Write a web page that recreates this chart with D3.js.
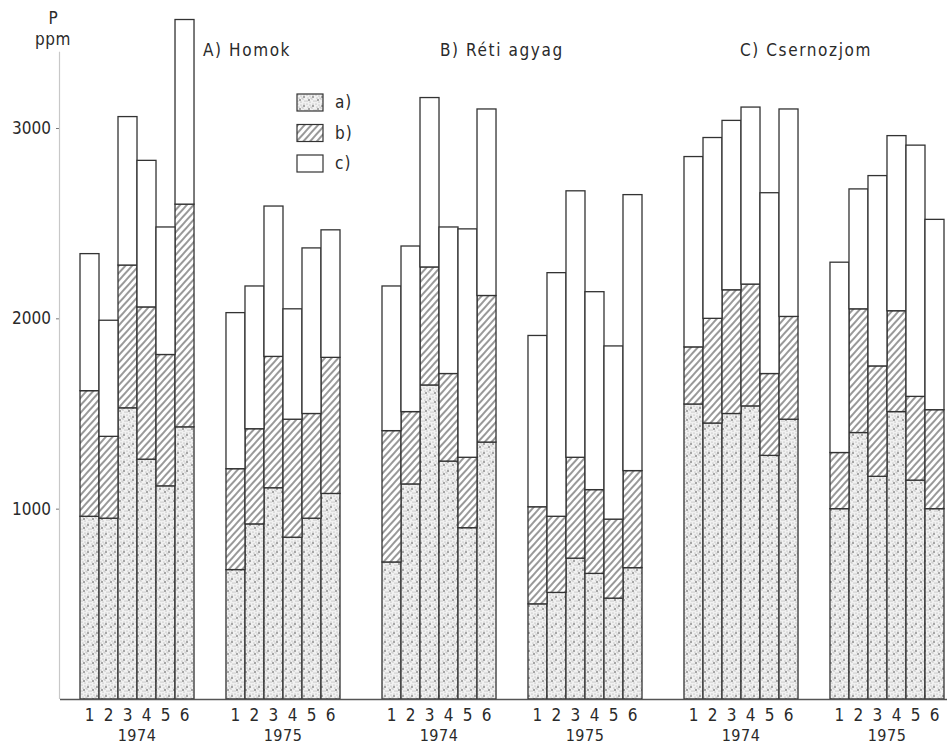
<!DOCTYPE html>
<html>
<head>
<meta charset="utf-8">
<script src="https://cdn.jsdelivr.net/npm/d3@7"></script>
<style>
  body { margin: 0; background: #fff; }
  text { font-family: "DejaVu Sans Condensed", "Liberation Sans Narrow", "DejaVu Sans", sans-serif; fill: #2a2a2a; }
</style>
</head>
<body>
<div id="chart"></div>
<script>
// soils and years
const soils = ['A) Homok', 'B) Réti agyag', 'C) Csernozjom'];
const years = ['1974', '1975'];
const samples = ['1', '2', '3', '4', '5', '6'];
const fractions = ['a', 'b', 'c'];

// P fractions (ppm), one row per soil/year: A74, A75, B74, B75, C74, C75
const fracA = [
    [960, 950, 1530, 1260, 1120, 1430],
    [680, 920, 1110, 850, 950, 1080],
    [720, 1130, 1650, 1250, 900, 1350],
    [500, 560, 740, 660, 530, 690],
    [1550, 1450, 1500, 1540, 1280, 1470],
    [1000, 1400, 1170, 1510, 1150, 1000]
];
const fracB = [
    [660, 430, 750, 800, 690, 1170],
    [530, 500, 690, 620, 550, 715],
    [690, 380, 620, 460, 370, 770],
    [510, 400, 530, 440, 415, 510],
    [300, 550, 650, 640, 430, 540],
    [295, 650, 580, 530, 440, 520]
];
const fracC = [
    [720, 610, 780, 770, 670, 970],
    [820, 750, 790, 580, 870, 670],
    [760, 870, 890, 770, 1200, 980],
    [900, 1280, 1400, 1040, 910, 1450],
    [1000, 950, 890, 930, 950, 1090],
    [1000, 630, 1000, 920, 1320, 1000]
];
const yTicks = [1000, 2000, 3000];

const W = 947, H = 747;

// flat table built from the arrays
const rows = [];
soils.forEach((soil, si) => {
    years.forEach((year, yi) => {
        const g = si * 2 + yi;
        samples.forEach((s, k) => {
            rows.push({ soil, year, sample: s, a: fracA[g][k], b: fracB[g][k], c: fracC[g][k] });
        });
    });
});

const svg = d3.select('#chart').append('svg')
    .attr('width', W)
    .attr('height', H);

svg.append('rect').attr('width', W).attr('height', H).attr('fill', '#fff');

// Patterns
const defs = svg.append('defs');

const dots = defs.append('pattern')
    .attr('id', 'dots')
    .attr('patternUnits', 'userSpaceOnUse')
    .attr('width', 9).attr('height', 9);
dots.append('rect').attr('width', 9).attr('height', 9).attr('fill', '#f1f1f1');
[[1, 1], [4, 2], [7, 1], [2, 4], [6, 5], [8, 7], [1, 7], [4, 8], [5, 4]].forEach(p => {
    dots.append('circle').attr('cx', p[0]).attr('cy', p[1]).attr('r', 0.6).attr('fill', '#a0a0a0');
});
[[3, 6], [7, 3]].forEach(p => {
    dots.append('circle').attr('cx', p[0]).attr('cy', p[1]).attr('r', 0.7).attr('fill', '#222');
});

const hatch = defs.append('pattern')
    .attr('id', 'hatch')
    .attr('patternUnits', 'userSpaceOnUse')
    .attr('width', 5).attr('height', 5)
    .attr('patternTransform', 'rotate(42)');
hatch.append('rect').attr('width', 5).attr('height', 5).attr('fill', '#fff');
hatch.append('line')
    .attr('x1', 1).attr('y1', 0).attr('x2', 1).attr('y2', 5)
    .attr('stroke', '#333').attr('stroke-width', 1);

const fills = { a: 'url(#dots)', b: 'url(#hatch)', c: '#fff' };

// Scales
const y = d3.scaleLinear().domain([0, 3000]).range([699, 128]);

const xSoil = d3.scaleBand().domain(soils).range([80, 986]).paddingInner(0);
const xYear = d3.scaleBand().domain(years).range([0, 260]).paddingInner(0.219).paddingOuter(0);
const xSample = d3.scaleBand().domain(samples).range([0, xYear.bandwidth()]).padding(0);

const barX = d => xSoil(d.soil) + xYear(d.year) + xSample(d.sample);

// Y axis
const yAxis = svg.append('g')
    .attr('transform', 'translate(60,0)')
    .call(d3.axisLeft(y).tickValues(yTicks).tickSize(4).tickPadding(5).tickFormat(d3.format('d')));
yAxis.select('.domain').remove();
yAxis.selectAll('.tick line').attr('stroke', '#777');
yAxis.selectAll('.tick text').attr('font-size', 17).attr('fill', '#2a2a2a').attr('font-family', null);

svg.append('line')
    .attr('x1', 59.5).attr('x2', 59.5)
    .attr('y1', y(3400)).attr('y2', y(0))
    .attr('stroke', '#c8c8c8').attr('stroke-width', 1.2);

svg.append('text').attr('x', 53).attr('y', 24).attr('text-anchor', 'middle')
    .attr('font-size', 17).text('P');
svg.append('text').attr('x', 53).attr('y', 45).attr('text-anchor', 'middle')
    .attr('font-size', 17).attr('letter-spacing', 0.5).text('ppm');

// Stacked bars
const stack = d3.stack().keys(fractions);
const series = stack(rows);

const layers = svg.append('g').selectAll('g')
    .data(series)
    .join('g')
    .attr('fill', s => fills[s.key]);

layers.selectAll('rect')
    .data(s => s)
    .join('rect')
    .attr('x', d => barX(d.data))
    .attr('width', xSample.bandwidth())
    .attr('y', d => y(d[1]))
    .attr('height', d => y(d[0]) - y(d[1]))
    .attr('stroke', '#333')
    .attr('stroke-width', 1.3);

// Baseline
svg.append('line')
    .attr('x1', 60).attr('x2', W)
    .attr('y1', y(0) + 0.5).attr('y2', y(0) + 0.5)
    .attr('stroke', '#555').attr('stroke-width', 1.4);

// Sample numbers and years
rows.forEach(d => {
    svg.append('text')
        .attr('x', barX(d) + xSample.bandwidth() / 2)
        .attr('y', 721)
        .attr('text-anchor', 'middle')
        .attr('font-size', 17)
        .text(d.sample);
});
soils.forEach(soil => {
    years.forEach(year => {
        svg.append('text')
            .attr('x', xSoil(soil) + xYear(year) + xYear.bandwidth() / 2)
            .attr('y', 741)
            .attr('text-anchor', 'middle')
            .attr('font-size', 16)
            .attr('letter-spacing', 0.5)
            .text(year);
    });
});

// Soil titles
const titleX = [203, 440, 740];
soils.forEach((soil, i) => {
    svg.append('text')
        .attr('x', titleX[i])
        .attr('y', 56)
        .attr('font-size', 17)
        .attr('letter-spacing', 1.6)
        .text(soil);
});

// Legend
const legend = svg.append('g').attr('transform', 'translate(297,94)');
fractions.forEach((f, i) => {
    const g = legend.append('g').attr('transform', `translate(0,${i * 30.5})`);
    g.append('rect')
        .attr('width', 26).attr('height', 17)
        .attr('fill', fills[f])
        .attr('stroke', '#333').attr('stroke-width', 1.2);
    g.append('text')
        .attr('x', 38).attr('y', 14)
        .attr('font-size', 17)
        .attr('letter-spacing', 1)
        .text(f + ')');
});
</script>
</body>
</html>
